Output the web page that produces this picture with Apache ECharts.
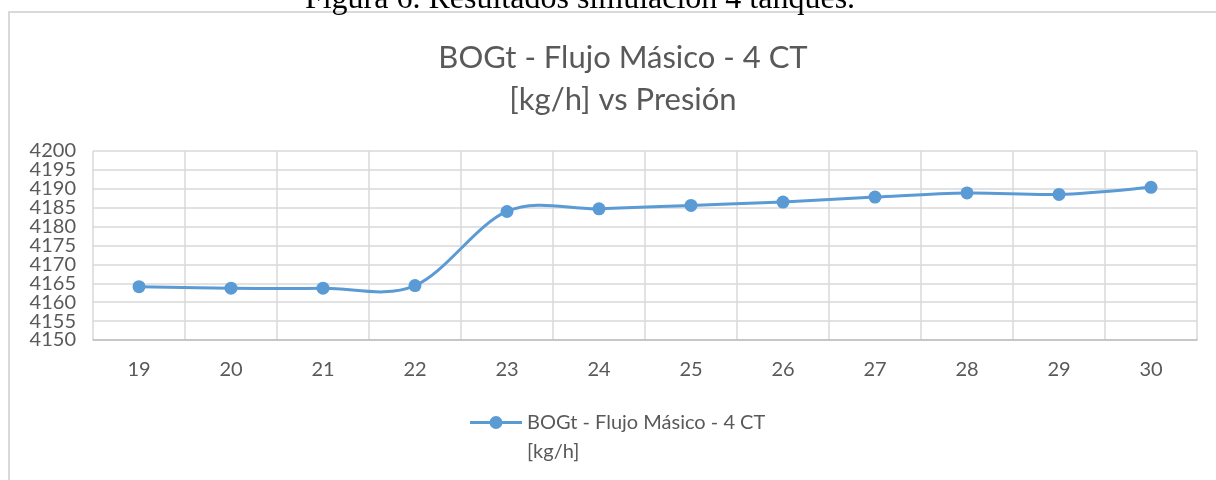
<!DOCTYPE html>
<html>
<head>
<meta charset="utf-8">
<style>
  html, body { margin: 0; padding: 0; background: #fff; }
  #chart { width: 1216px; height: 480px; }
</style>
<script src="https://cdn.jsdelivr.net/npm/echarts@6/dist/echarts.min.js"></script>
</head>
<body>
<div id="chart"></div>
<script>
// Pressure categories (x axis)
const presiones = ['19', '20', '21', '22', '23', '24', '25', '26', '27', '28', '29', '30'];
// BOGt mass flow [kg/h] per pressure
const flujoMasico = [4164.1, 4163.7, 4163.7, 4164.4, 4184.0, 4184.7, 4185.6, 4186.5, 4187.8, 4188.9, 4188.5, 4190.4];
// Value axis range
const yMin = 4150, yMax = 4200, yStep = 5;

const serieNombre = 'BOGt - Flujo Másico - 4 CT\n[kg/h]';
const azul = '#5b9bd5';
const textoGris = '#595959';
const fuente = 'Lato, "Open Sans", sans-serif';

// Legend marker: short line with a dot in the middle
const iconoLeyenda = 'path://M0,5.5h52v3h-52z M19.5,7a6.5,6.5 0 1,1 13,0a6.5,6.5 0 1,1 -13,0z';

// Smoothed curve through the data points (cardinal spline, tension 1/6 per side)
function curvaSuave(params, api) {
  if (params.dataIndex !== 0) return null;
  const pts = flujoMasico.map((v, i) => api.coord([i, v]));
  let d = 'M' + pts[0][0] + ',' + pts[0][1];
  for (let i = 0; i < pts.length - 1; i++) {
    const p0 = pts[Math.max(i - 1, 0)];
    const p1 = pts[i];
    const p2 = pts[i + 1];
    const p3 = pts[Math.min(i + 2, pts.length - 1)];
    const c1x = p1[0] + (p2[0] - p0[0]) / 6;
    const c1y = p1[1] + (p2[1] - p0[1]) / 6;
    const c2x = p2[0] - (p3[0] - p1[0]) / 6;
    const c2y = p2[1] - (p3[1] - p1[1]) / 6;
    d += ' C' + c1x + ',' + c1y + ' ' + c2x + ',' + c2y + ' ' + p2[0] + ',' + p2[1];
  }
  return {
    type: 'path',
    shape: { pathData: d },
    style: { fill: 'none', stroke: azul, lineWidth: 3, lineJoin: 'round', lineCap: 'round' }
  };
}

// The tick labels sit closer together than their text height, so they are
// split over two overlaid value axes (multiples of 10, and the rest) to keep
// every label visible.
function etiquetaY(par) {
  return v => ((Math.round((v - yMin) / yStep) % 2 === 0) === par ? String(v) : '');
}
function ejeY(par, conGrilla) {
  return {
    type: 'value',
    position: 'left',
    min: yMin, max: yMax, interval: yStep,
    axisLine: { show: false },
    axisTick: { show: false },
    axisLabel: {
      color: textoGris, fontFamily: fuente, fontSize: 20, margin: 17,
      showMinLabel: true, showMaxLabel: true, hideOverlap: false,
      formatter: etiquetaY(par)
    },
    splitLine: { show: conGrilla, lineStyle: { color: '#d9d9d9', width: 1.5 } }
  };
}

const chart = echarts.init(document.getElementById('chart'), null, { renderer: 'canvas' });

chart.setOption({
  backgroundColor: '#ffffff',
  animation: false,
  title: {
    text: 'BOGt - Flujo Másico - 4 CT\n[kg/h] vs Presión',
    left: 618,
    textAlign: 'center',
    top: 32,
    textStyle: { color: textoGris, fontFamily: fuente, fontWeight: 'normal', fontSize: 31, lineHeight: 42 }
  },
  graphic: [
    {
      type: 'rect', silent: true, z: -1,
      shape: { x: 9, y: 12, width: 1230, height: 500 },
      style: { fill: 'none', stroke: '#d9d9d9', lineWidth: 2 }
    },
    {
      type: 'text', silent: true,
      x: 580, y: -16,
      style: {
        text: 'Figura 6. Resultados simulación 4 tanques.',
        fill: '#000', font: '32px "Liberation Serif", "Times New Roman", serif',
        align: 'center', verticalAlign: 'top'
      }
    }
  ],
  grid: { left: 93, right: 19, top: 151, bottom: 140, containLabel: false },
  legend: {
    left: 465, top: 374,
    itemWidth: 52, itemHeight: 13, itemGap: 6,
    formatter: name => ' \n' + name,
    textStyle: { color: textoGris, fontFamily: fuente, fontSize: 20, lineHeight: 29 },
    data: [{ name: serieNombre, icon: iconoLeyenda, itemStyle: { color: azul } }]
  },
  xAxis: {
    type: 'category',
    data: presiones,
    boundaryGap: true,
    axisLine: { lineStyle: { color: '#bfbfbf', width: 1.5 } },
    axisTick: { show: false },
    axisLabel: { color: textoGris, fontFamily: fuente, fontSize: 20, margin: 20 },
    splitLine: { show: true, lineStyle: { color: '#d9d9d9', width: 1.5 } }
  },
  yAxis: [ejeY(true, true), ejeY(false, false)],
  series: [
    {
      name: serieNombre,
      type: 'custom',
      renderItem: curvaSuave,
      data: flujoMasico.map((v, i) => [i, v]),
      encode: { x: 0, y: 1 },
      yAxisIndex: 0,
      clip: false,
      z: 2,
      itemStyle: { color: azul }
    },
    {
      name: serieNombre,
      type: 'line',
      data: flujoMasico,
      yAxisIndex: 0,
      symbol: 'circle',
      symbolSize: 13,
      lineStyle: { opacity: 0 },
      itemStyle: { color: azul },
      z: 3
    }
  ]
});
</script>
</body>
</html>
